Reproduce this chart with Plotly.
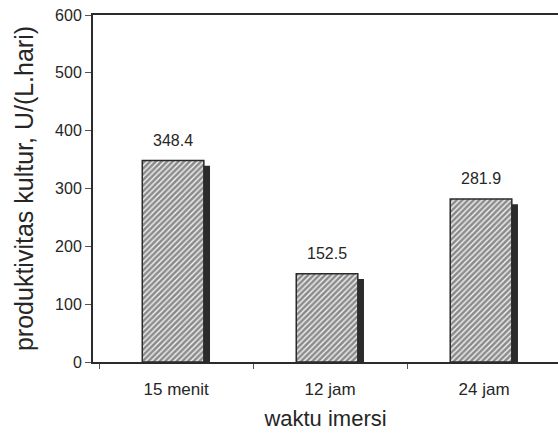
import plotly.graph_objects as go

# Culture productivity per immersion time
categories = ["15 menit", "12 jam", "24 jam"]
values = [348.4, 152.5, 281.9]
y_ticks = [0, 100, 200, 300, 400, 500, 600]

FONT = "Liberation Sans, Arial, sans-serif"
INK = "#2b2b2b"
TXT = "#262626"
BAR_W = 0.40
BAR_SHIFT = -0.02     # bars sit slightly left of the category centre
SHADOW_DX = 0.04      # shadow shift to the right, in category units
SHADOW_DY = 9         # shadow drop, in data units

fig = go.Figure()

# drop shadow behind each bar
fig.add_trace(go.Bar(
    x=categories, y=values, base=[-SHADOW_DY] * len(values),
    width=BAR_W, offset=-BAR_W / 2 + BAR_SHIFT + SHADOW_DX,
    marker=dict(color=INK, line=dict(width=0)),
    hoverinfo="skip", showlegend=False,
))

# hatched bars
fig.add_trace(go.Bar(
    x=categories, y=values,
    width=BAR_W, offset=-BAR_W / 2 + BAR_SHIFT,
    marker=dict(
        color="#eeeeee",
        line=dict(color=INK, width=1.5),
        pattern=dict(shape="/", fgcolor="#222222", bgcolor="#f4f4f4",
                     size=4, solidity=0.65),
    ),
    showlegend=False,
))

# value labels above the bars
for cat, v in zip(categories, values):
    fig.add_annotation(
        x=cat, y=v, xref="x", yref="y",
        text=f"{v:.1f}", showarrow=False,
        xshift=-3, yshift=20, yanchor="middle",
        font=dict(family=FONT, size=16, color=TXT),
    )

fig.update_layout(
    width=558, height=442,
    margin=dict(l=93, r=0, t=15, b=80),
    paper_bgcolor="white", plot_bgcolor="white",
    barmode="overlay",
    font=dict(family=FONT, color=TXT),
    xaxis=dict(
        range=[-0.54, 2.48],
        showline=True, linecolor=INK, linewidth=2, mirror=True,
        ticks="outside", tickson="boundaries", ticklen=5,
        tickcolor="#555", tickwidth=1,
        tickfont=dict(size=17, family=FONT, color=TXT),
        ticklabelstandoff=11,
        showgrid=False, zeroline=False,
        title=dict(text="waktu imersi", font=dict(size=22, family=FONT, color=TXT),
                   standoff=12),
    ),
    yaxis=dict(
        range=[0, 600], tickvals=y_ticks,
        showline=True, linecolor=INK, linewidth=2, mirror=False,
        ticks="outside", ticklen=6, tickcolor="#555", tickwidth=1,
        tickfont=dict(size=16, family=FONT, color=TXT),
        showgrid=False, zeroline=False,
        title=dict(text="produktivitas kultur, U/(L.hari)",
                   font=dict(size=25, family=FONT, color=TXT), standoff=14),
    ),
)

fig.write_html("out.html")
